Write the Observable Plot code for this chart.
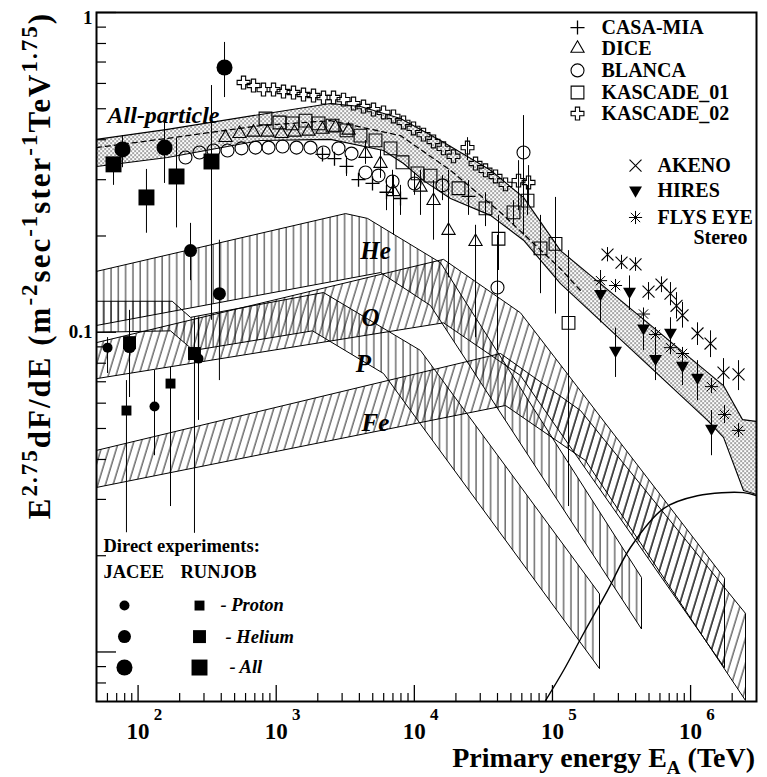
<!DOCTYPE html>
<html>
<head>
<meta charset="utf-8">
<script src="https://cdn.jsdelivr.net/npm/d3@7"></script>
<script src="https://cdn.jsdelivr.net/npm/@observablehq/plot@0.6"></script>
<style>
  html,body{margin:0;padding:0;background:#fff;}
  #chart svg{display:block;}
</style>
</head>
<body>
<div id="chart"></div>
<script>
// ===== Data: E in TeV, F = E^2.75 dF/dE =====
// Direct experiments
const jaceeP_E = [60.1, 131.5, 273.8], jaceeP_F = [0.0895, 0.0586, 0.0827], jaceeP_lo = [0.0743, 0.0411, 0.0530], jaceeP_hi = [0.0962, 0.0759, 0.111];
const jaceeHe_E = [86.7, 239.7, 388], jaceeHe_F = [0.0902, 0.180, 0.132], jaceeHe_lo = [0.0625, 0.145, 0.0706], jaceeHe_hi = [0.117, 0.219, 0.194];
const jaceeAll_E = [77.1, 155.4, 422.5], jaceeAll_F = [0.373, 0.378, 0.673], jaceeAll_lo = [0.327, 0.292, 0.542], jaceeAll_hi = [0.412, 0.453, 0.806];
const runjobP_E = [82.4, 171.7], runjobP_F = [0.0569, 0.0691], runjobP_lo = [0.0236, 0.0285], runjobP_hi = [0.0706, 0.0776];
const runjobHe_E = [86.7, 256], runjobHe_F = [0.0928, 0.0858], runjobHe_lo = [0.0625, 0.0235], runjobHe_hi = [0.117, 0.111];
const runjobAll_E = [66.4, 115, 189.8, 340], runjobAll_F = [0.335, 0.264, 0.307, 0.342], runjobAll_lo = [0.288, 0.204, 0.212, 0.109], runjobAll_hi = [0.352, 0.323, 0.404, 0.591];

// Air-shower experiments
const kas02_E = [580, 685, 809, 956, 1129, 1334, 1576, 1862, 2200, 2599, 3071, 3628, 4285, 5063, 5982, 7067, 8349, 9863, 11650, 13770, 16260, 19210, 24270, 27730, 32760, 38700, 45720, 56800, 67100];
const kas02_F = [0.604, 0.591, 0.574, 0.574, 0.566, 0.562, 0.554, 0.550, 0.542, 0.542, 0.534, 0.519, 0.508, 0.497, 0.487, 0.473, 0.453, 0.434, 0.415, 0.395, 0.376, 0.355, 0.378, 0.337, 0.321, 0.307, 0.290, 0.298, 0.294];
const kas02_lo = [null,null,null,null,null,null,null,null,null,null,null,null,null,null,null,null,null,null,null,null,null,null,0.344,null,null,null,null,0.240,0.249];
const kas02_hi = [null,null,null,null,null,null,null,null,null,null,null,null,null,null,null,null,null,null,null,null,null,null,0.406,null,null,null,null,0.344,0.332];

const kas01_E = [836.5, 1056, 1312, 1630, 2024, 2556, 3228, 4076, 5235, 6722, 8209, 10540, 13095, 20880, 32750, 40680, 52250, 65990, 81930, 105200, 130700];
const kas01_F = [0.466, 0.453, 0.450, 0.459, 0.450, 0.443, 0.428, 0.412, 0.398, 0.376, 0.340, 0.314, 0.309, 0.282, 0.244, 0.196, 0.237, 0.258, 0.183, 0.189, 0.107];
const kas01_lo = [null,null,null,null,null,null,null,null,null,null,null,null,null,null,0.214,0.156,0.216,0.232,0.132,0.114,0.0285];
const kas01_hi = [null,null,null,null,null,null,null,null,null,null,null,null,null,null,0.273,0.232,0.258,0.288,0.232,0.264,0.180];

const dice_E = [429.5, 542.4, 684.7, 865, 1092, 1356, 1713, 2163, 2687, 3344, 4431, 5690, 7067, 11080, 13770, 17680, 27730];
const dice_F = [0.406, 0.418, 0.422, 0.422, 0.418, 0.422, 0.425, 0.431, 0.437, 0.428, 0.362, 0.337, 0.275, 0.284, 0.258, 0.208, 0.192];
const dice_lo = [null,null,null,null,null,null,null,null,null,null,0.335,0.303,0.201,0.232,0.194,0.148,0.0962];
const dice_hi = [null,null,null,null,null,null,null,null,null,null,0.398,0.370,0.309,0.321,0.298,0.321,0.216];

const blanca_E = [220.4, 278.4, 351.6, 444.1, 560.9, 708.3, 879.5, 1111, 1403, 1771, 2200, 2825, 3509, 4431, 5504, 6950, 10030, 15990, 40000, 61710];
const blanca_F = [0.352, 0.365, 0.370, 0.370, 0.376, 0.378, 0.378, 0.381, 0.378, 0.378, 0.365, 0.376, 0.362, 0.316, 0.309, 0.296, 0.292, 0.288, 0.138, 0.365];
const blanca_lo = [null,null,null,null,null,null,null,null,null,null,null,null,null,null,null,0.268,0.268,0.258,0.0877,0.201];
const blanca_hi = [null,null,null,null,null,null,null,null,null,null,null,null,null,null,null,0.321,0.316,0.309,0.201,0.476];

const casa_E = [2163, 2642, 3228, 3943, 4979, 6288, 7941, 24670];
const casa_F = [0.360, 0.349, 0.330, 0.300, 0.292, 0.274, 0.262, 0.266];
const casa_lo = [null, null, 0.307, null, null, 0.240, 0.232, 0.232];
const casa_hi = [null, null, 0.355, null, null, 0.298, 0.288, 0.298];

const akeno_E = [250300, 316100, 399300, 495900, 615600, 715300, 790700, 873800, 1.122e6, 1.394e6, 1.731e6, 2.223e6];
const akeno_F = [0.175, 0.165, 0.163, 0.134, 0.141, 0.132, 0.121, 0.113, 0.0991, 0.0922, 0.0748, 0.0738];
const akeno_lo = [0.166, 0.157, 0.155, 0.126, 0.133, 0.121, 0.110, 0.103, 0.0909, 0.0833, 0.0676, 0.0657];
const akeno_hi = [0.184, 0.174, 0.171, 0.143, 0.149, 0.143, 0.133, 0.124, 0.107, 0.101, 0.0827, 0.0815];

const hires_E = [222800, 286100, 361200, 456200, 557200, 715300, 873800, 1.122e6, 1.417e6];
const hires_F = [0.132, 0.0877, 0.134, 0.103, 0.0827, 0.0998, 0.0787, 0.0722, 0.0500];
const hires_lo = [0.107, 0.0722, 0.117, 0.0877, 0.0706, 0.0895, 0.0681, 0.0611, 0.0411];
const hires_hi = [0.148, 0.103, 0.150, 0.113, 0.0942, 0.111, 0.0877, 0.0815, 0.0569];

const fly_E = [222800, 286100, 456200, 557200, 715300, 873800, 1.417e6, 1.760e6, 2.223e6];
const fly_F = [0.145, 0.140, 0.114, 0.0984, 0.0895, 0.0858, 0.0676, 0.0553, 0.0493];
const fly_lo = [0.133, 0.135, 0.107, 0.0928, 0.0858, 0.0815, 0.0643, 0.0518, 0.0469];
const fly_hi = [0.156, 0.145, 0.1186, 0.1034, 0.0942, 0.0895, 0.0717, 0.0590, 0.0518];

// Model bands (upper / lower edges)
const heUpperE = [50, 3175, 4580, 15470, 441100], heUpperF = [0.155, 0.235, 0.227, 0.165, 0.0171];
const heLowerE = [50, 5690, 13090, 441100], heLowerF = [0.105, 0.1537, 0.1212, 0.0118];
const pUpperE = [50, 176.6, 239.6, 2200, 11080, 219000], pUpperF = [0.1250, 0.1250, 0.1113, 0.1331, 0.0877, 0.0152];
const pLowerE = [50, 171.7, 251.9, 1831, 5982, 219000], pLowerF = [0.1000, 0.101, 0.0877, 0.101, 0.0743, 0.00887];
const oUpperE = [50, 16260, 58700, 1.76e6], oUpperF = [0.0928, 0.169, 0.115, 0.0170];
const oLowerE = [50, 16260, 58700, 1.76e6], oLowerF = [0.0716, 0.107, 0.0732, 0.00893];
const feUpperE = [50, 42060, 159600, 2.498e6], feUpperF = [0.0427, 0.0858, 0.0569, 0.0132];
const feLowerE = [50, 45710, 173500, 2.498e6], feLowerF = [0.0327, 0.0590, 0.0397, 0.00705];

const allUpperE = [50, 163.3, 769.6, 2473, 4076, 7941, 15470, 35600, 61710, 114300, 1.731e6, 2.376e6, 3.0e6];
const allUpperF = [0.401, 0.431, 0.480, 0.519, 0.508, 0.466, 0.398, 0.321, 0.264, 0.180, 0.0681, 0.0533, 0.0526];
const allLowerE = [50, 163.3, 769.6, 2473, 5982, 8349, 11650, 18270, 35600, 61710, 114300, 1.326e6, 1.731e6, 2.416e6, 3.0e6];
const allLowerF = [0.330, 0.352, 0.398, 0.401, 0.370, 0.337, 0.298, 0.262, 0.232, 0.194, 0.142, 0.0530, 0.0469, 0.0320, 0.0311];
const allMidE = [50, 163.3, 769.6, 2473, 7941, 18270, 42060, 114300, 159600];
const allMidF = [0.378, 0.404, 0.443, 0.459, 0.412, 0.321, 0.237, 0.158, 0.135];

const egE = [89100, 120200, 167800, 250300, 367000, 636500, 1.12e6, 2.41e6, 3.0e6];
const egF = [0.00705, 0.00875, 0.01142, 0.01556, 0.02122, 0.02808, 0.0308, 0.0315, 0.0308];

// Labels
const bandLabels = [
  {text: "He", E: 5235, F: 0.180},
  {text: "O", E: 4815, F: 0.111},
  {text: "P", E: 4285, F: 0.0798},
  {text: "Fe", E: 5235, F: 0.0522}
];
const legend1Names = ["CASA-MIA", "DICE", "BLANCA", "KASCADE_01", "KASCADE_02"];
const legend1F = [0.897, 0.772, 0.659, 0.562, 0.483];
const legend1MarkE = 151800, legend1TextE = 226400;
const legend2Names = ["AKENO", "HIRES", "FLYS EYE"];
const legend2F = [0.332, 0.278, 0.2285];
const legend2MarkE = 399300, legend2TextE = 576000;
const directF = [0.01397, 0.01117, 0.00894];
const directNames = ["- Proton", "- Helium", "- All"];
const directTextE = [395, 429.5, 459];

const xMajor = [1e2, 1e3, 1e4, 1e5, 1e6];
const xTickLabels = ["10", "10", "10", "10", "10"];
const xTickExp = ["2", "3", "4", "5", "6"];
const yMajor = [0.01, 0.1, 1];

// ===== helpers =====
const font = "'Liberation Serif','Times New Roman',serif";
const pts = (E, F) => E.map((e, i) => ({E: e, F: F[i]}));
const poly = (uE, uF, lE, lF) => { const u = pts(uE, uF), l = pts(lE, lF).reverse(); return [...u, ...l, u[0]]; };
const errRows = (E, F, lo, hi) => E.map((e, i) => ({E: e, F: F[i], lo: lo[i], hi: hi[i]}));
const xMinor = [];
for (let d = 10; d <= 1e6; d *= 10) for (let m = 2; m <= 9; m++) { const v = d * m; if (v > 52 && v < 2.95e6) xMinor.push(v); }
const yMinor = [];
for (let d = 0.001; d <= 0.1; d *= 10) for (let m = 2; m <= 9; m++) { const v = d * m; if (v > 0.0071 && v < 1) yMinor.push(v); }

const W = 767, H = 777, mL = 96, mR = 11, mT = 12, mB = 76;
const innerW = W - mL - mR, innerH = H - mT - mB;

const sets = {
  jaceeP: errRows(jaceeP_E, jaceeP_F, jaceeP_lo, jaceeP_hi),
  jaceeHe: errRows(jaceeHe_E, jaceeHe_F, jaceeHe_lo, jaceeHe_hi),
  jaceeAll: errRows(jaceeAll_E, jaceeAll_F, jaceeAll_lo, jaceeAll_hi),
  runjobP: errRows(runjobP_E, runjobP_F, runjobP_lo, runjobP_hi),
  runjobHe: errRows(runjobHe_E, runjobHe_F, runjobHe_lo, runjobHe_hi),
  runjobAll: errRows(runjobAll_E, runjobAll_F, runjobAll_lo, runjobAll_hi),
  kas02: errRows(kas02_E, kas02_F, kas02_lo, kas02_hi),
  kas01: errRows(kas01_E, kas01_F, kas01_lo, kas01_hi),
  dice: errRows(dice_E, dice_F, dice_lo, dice_hi),
  blanca: errRows(blanca_E, blanca_F, blanca_lo, blanca_hi),
  casa: errRows(casa_E, casa_F, casa_lo, casa_hi),
  akeno: errRows(akeno_E, akeno_F, akeno_lo, akeno_hi),
  hires: errRows(hires_E, hires_F, hires_lo, hires_hi),
  fly: errRows(fly_E, fly_F, fly_lo, fly_hi)
};
const allErr = Object.values(sets).flat().filter(d => d.lo != null && d.hi != null);

const open = {x: "E", y: "F", fill: "none", stroke: "black", strokeWidth: 1.1};
const solid = {x: "E", y: "F", fill: "black", stroke: "none"};
const l1 = legend1Names.map((n, i) => ({name: n, E: legend1MarkE, TE: legend1TextE, F: legend1F[i]}));
const l2 = legend2Names.map((n, i) => ({name: n, E: legend2MarkE, TE: legend2TextE, F: legend2F[i]}));
const dl = directNames.map((n, i) => ({name: n, F: directF[i], TE: directTextE[i]}));
const lgFont = {fontSize: 20, letterSpacing: "0.3px"};

const chart = Plot.plot({
  width: W, height: H,
  marginLeft: mL, marginRight: mR, marginTop: mT, marginBottom: mB,
  x: {type: "log", domain: [50, 3e6], axis: null},
  y: {type: "log", domain: [0.007, 1], axis: null},
  style: {fontFamily: font, fontWeight: "bold", background: "white", color: "black", overflow: "visible"},
  marks: [
    // component bands
    Plot.line(poly(heUpperE, heUpperF, heLowerE, heLowerF), {x: "E", y: "F", fill: "url(#vhatch)", stroke: "black", strokeWidth: 1, clip: true}),
    Plot.line(poly(pUpperE, pUpperF, pLowerE, pLowerF), {x: "E", y: "F", fill: "url(#vhatch)", stroke: "black", strokeWidth: 1, clip: true}),
    Plot.line(poly(oUpperE, oUpperF, oLowerE, oLowerF), {x: "E", y: "F", fill: "url(#dhatch)", stroke: "black", strokeWidth: 1, clip: true}),
    Plot.line(poly(feUpperE, feUpperF, feLowerE, feLowerF), {x: "E", y: "F", fill: "url(#dhatch)", stroke: "black", strokeWidth: 1, clip: true}),
    // all-particle band
    Plot.line(poly(allUpperE, allUpperF, allLowerE, allLowerF), {x: "E", y: "F", fill: "url(#stipple)", stroke: "black", strokeWidth: 1.1, clip: true}),
    Plot.line(pts(allMidE, allMidF), {x: "E", y: "F", stroke: "black", strokeWidth: 1.3, strokeDasharray: "5,4", clip: true}),
    // extragalactic curve
    Plot.line(pts(egE, egF), {x: "E", y: "F", stroke: "black", strokeWidth: 1.4, curve: "catmull-rom", clip: true}),
    // ticks (inside)
    Plot.ruleX(xMajor, {insetTop: innerH - 16, stroke: "black", strokeWidth: 1.3}),
    Plot.ruleX(xMinor, {insetTop: innerH - 8, stroke: "black", strokeWidth: 1.2}),
    Plot.ruleY(yMajor, {insetRight: innerW - 20, stroke: "black", strokeWidth: 1.3}),
    Plot.ruleY(yMinor, {insetRight: innerW - 10, stroke: "black", strokeWidth: 1.2}),
    // error bars
    Plot.ruleX(allErr, {x: "E", y1: "lo", y2: "hi", stroke: "black", strokeWidth: 1, clip: true}),
    // air-shower markers
    Plot.dot(sets.casa, {...open, symbol: "plus", r: 4.6, strokeWidth: 1.3}),
    Plot.dot(sets.dice, {...open, symbol: "triangle2", r: 6.3}),
    Plot.dot(sets.blanca, {...open, symbol: "circle", r: 6.5}),
    Plot.dot(sets.kas01, {...open, symbol: "square", r: 7.2}),
    Plot.dot(sets.kas02, {...open, symbol: "cross", r: 5.4}),
    Plot.dot(sets.akeno, {...open, symbol: "times", r: 5.5}),
    Plot.dot(sets.hires, {...solid, symbol: "triangle", r: 4.8, rotate: 180}),
    Plot.dot(sets.fly, {...open, symbol: "plus", r: 4.3, strokeWidth: 1}),
    Plot.dot(sets.fly, {...open, symbol: "times", r: 4.3, strokeWidth: 1}),
    // direct markers
    Plot.dot(sets.jaceeP, {...solid, symbol: "circle", r: 5}),
    Plot.dot(sets.jaceeHe, {...solid, symbol: "circle", r: 6.5}),
    Plot.dot(sets.jaceeAll, {...solid, symbol: "circle", r: 8}),
    Plot.dot(sets.runjobP, {...solid, symbol: "square", r: 5.6}),
    Plot.dot(sets.runjobHe, {...solid, symbol: "square", r: 7.3}),
    Plot.dot(sets.runjobAll, {...solid, symbol: "square", r: 9}),
    // band labels
    Plot.text(bandLabels, {x: "E", y: "F", text: "text", fontSize: 25, fontStyle: "italic", fontWeight: "bold", fill: "black"}),
    Plot.text([{t: "All-particle", E: 60.1, F: 0.476}], {x: "E", y: "F", text: "t", textAnchor: "start", fontSize: 24, letterSpacing: "0.5px", fontStyle: "italic", fontWeight: "bold"}),
    // legend 1
    Plot.dot(l1.slice(0, 1), {...open, symbol: "plus", r: 4.6, strokeWidth: 1.3}),
    Plot.dot(l1.slice(1, 2), {...open, symbol: "triangle2", r: 6.3}),
    Plot.dot(l1.slice(2, 3), {...open, symbol: "circle", r: 6.5}),
    Plot.dot(l1.slice(3, 4), {...open, symbol: "square", r: 7.2}),
    Plot.dot(l1.slice(4, 5), {...open, symbol: "cross", r: 5.4}),
    Plot.text(l1, {x: "TE", y: "F", text: "name", textAnchor: "start", ...lgFont}),
    // legend 2
    Plot.dot(l2.slice(0, 1), {...open, symbol: "times", r: 5.5}),
    Plot.dot(l2.slice(1, 2), {...solid, symbol: "triangle", r: 4.8, rotate: 180}),
    Plot.dot(l2.slice(2, 3), {...open, symbol: "plus", r: 4.3, strokeWidth: 1}),
    Plot.dot(l2.slice(2, 3), {...open, symbol: "times", r: 4.3, strokeWidth: 1}),
    Plot.text(l2, {x: "TE", y: "F", text: "name", textAnchor: "start", ...lgFont}),
    Plot.text([{t: "Stereo", E: 2.582e6, F: 0.1978}], {x: "E", y: "F", text: "t", textAnchor: "end", ...lgFont}),
    // direct legend
    Plot.text([{t: "Direct experiments:", E: 56.2, F: 0.02137}], {x: "E", y: "F", text: "t", textAnchor: "start", fontSize: 18.5, letterSpacing: "0.3px"}),
    Plot.text([{t: "JACEE", E: 56.2, F: 0.01772}, {t: "RUNJOB", E: 202.8, F: 0.01772}], {x: "E", y: "F", text: "t", textAnchor: "start", fontSize: 18.5}),
    Plot.dot(dl.slice(0, 1), {...solid, x: () => 79.7, symbol: "circle", r: 5}),
    Plot.dot(dl.slice(1, 2), {...solid, x: () => 79.7, symbol: "circle", r: 6.5}),
    Plot.dot(dl.slice(2, 3), {...solid, x: () => 79.7, symbol: "circle", r: 8}),
    Plot.dot(dl.slice(0, 1), {...solid, x: () => 278.4, symbol: "square", r: 5.6}),
    Plot.dot(dl.slice(1, 2), {...solid, x: () => 278.4, symbol: "square", r: 7.3}),
    Plot.dot(dl.slice(2, 3), {...solid, x: () => 278.4, symbol: "square", r: 9}),
    Plot.text(dl, {x: "TE", y: "F", text: "name", textAnchor: "start", fontSize: 18.5, fontStyle: "italic"}),
    // axis tick labels
    Plot.text(xMajor, {x: d => d, frameAnchor: "bottom", lineAnchor: "top", dy: 21, text: (d, i) => xTickLabels[i], fontSize: 23}),
    Plot.text(xMajor, {x: d => d, frameAnchor: "bottom", lineAnchor: "top", dy: 6, dx: 20, text: (d, i) => xTickExp[i], fontSize: 17}),
    Plot.text([0.1], {y: d => d, frameAnchor: "left", textAnchor: "end", dx: -4, text: () => "0.1", fontSize: 19}),
    Plot.text([1], {y: d => d, frameAnchor: "left", textAnchor: "end", dx: -4, dy: 5, text: () => "1", fontSize: 19}),
    Plot.frame({stroke: "black", strokeWidth: 2})
  ]
});

// patterns
const svg = d3.select(chart);
const defs = svg.insert("defs", ":first-child");
const vh = defs.append("pattern").attr("id", "vhatch").attr("patternUnits", "userSpaceOnUse").attr("width", 7.3).attr("height", 10);
vh.append("line").attr("x1", 1).attr("y1", -1).attr("x2", 1).attr("y2", 11).attr("stroke", "black").attr("stroke-width", 0.9);
const dh = defs.append("pattern").attr("id", "dhatch").attr("patternUnits", "userSpaceOnUse").attr("width", 7.3).attr("height", 10).attr("patternTransform", "rotate(17)");
dh.append("line").attr("x1", 1).attr("y1", -1).attr("x2", 1).attr("y2", 11).attr("stroke", "black").attr("stroke-width", 0.9);
const st = defs.append("pattern").attr("id", "stipple").attr("patternUnits", "userSpaceOnUse").attr("width", 4).attr("height", 4);
st.append("rect").attr("x", 0).attr("y", 0).attr("width", 1.2).attr("height", 1.2).attr("fill", "#000");
st.append("rect").attr("x", 2).attr("y", 2).attr("width", 1.2).attr("height", 1.2).attr("fill", "#000");

// axis titles
const xt = svg.append("text").attr("x", 755).attr("y", 767).attr("text-anchor", "end")
  .attr("font-family", font).attr("font-weight", "bold").attr("font-size", 28).attr("fill", "black");
xt.append("tspan").text("Primary energy E");
xt.append("tspan").attr("font-size", 19).attr("dy", 7).text("A");
xt.append("tspan").attr("dy", -7).text(" (TeV)");

const yt = svg.append("text").attr("transform", "translate(50,12) rotate(-90)").attr("text-anchor", "end")
  .attr("font-family", font).attr("font-weight", "bold").attr("font-size", 31).attr("letter-spacing", "2px").attr("fill", "black");
const yParts = [["E", 0], ["2.75", 1], ["dF/dE (m", 0], ["-2", 1], ["sec", 0], ["-1", 1], ["ster", 0], ["-1", 1], ["TeV", 0], ["1.75", 1], [")", 0]];
let prevSup = 0;
for (const [t, sup] of yParts) {
  const ts = yt.append("tspan").text(t);
  if (sup) ts.attr("font-size", 23);
  if (sup && !prevSup) ts.attr("dy", -13);
  if (!sup && prevSup) ts.attr("dy", 13);
  prevSup = sup;
}

document.getElementById("chart").append(chart);
</script>
</body>
</html>
